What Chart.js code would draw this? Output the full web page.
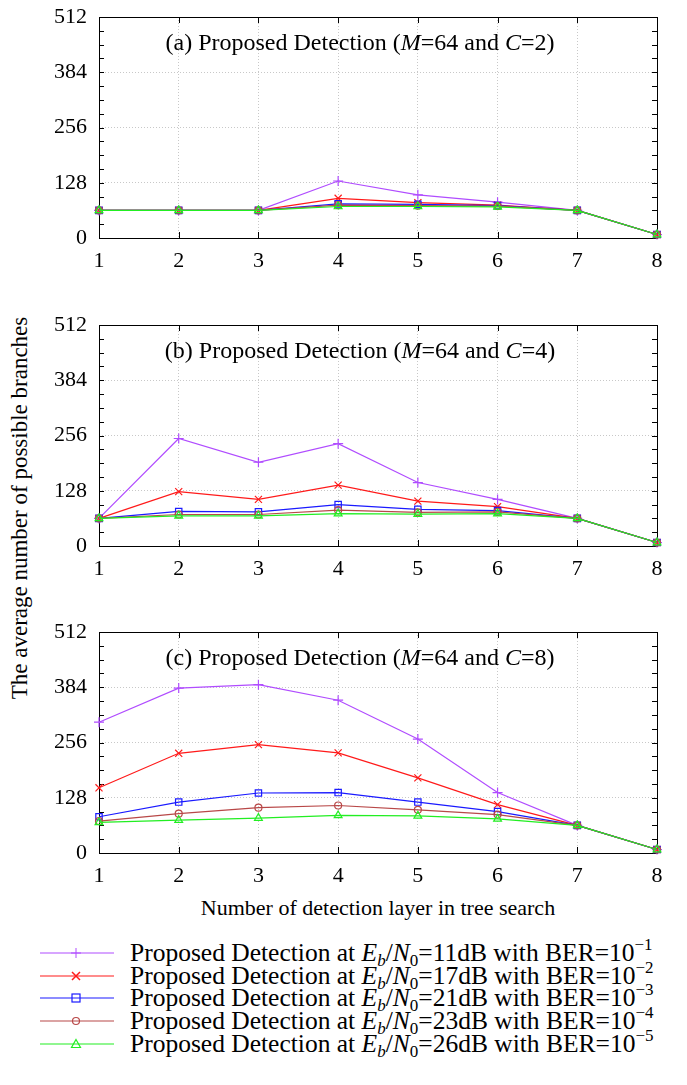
<!DOCTYPE html>
<html>
<head>
<meta charset="utf-8">
<script src="https://cdn.jsdelivr.net/npm/chart.js@4.4.1/dist/chart.umd.min.js"></script>
<style>
  body { margin: 0; background: #fff; width: 687px; height: 1085px; position: relative; overflow: hidden;
         font-family: "Liberation Serif", "Times New Roman", serif; color: #000; }
  .panel { position: absolute; left: 50px; width: 620px; height: 267px; }
  #ylabel { position: absolute; left: 20px; top: 508px; transform: translate(-50%, -50%) rotate(-90deg);
            white-space: nowrap; font-size: 23px; }
  #xlabel { position: absolute; left: 378px; top: 908px; transform: translate(-50%, -50%);
            white-space: nowrap; font-size: 22px; }
  .leg { position: absolute; left: 36px; height: 24px; line-height: 24px; font-size: 25.5px; white-space: nowrap; }
  .leg svg { position: absolute; left: 0; top: 0; }
  .leg span { position: absolute; left: 94px; top: 0; }
  sub { font-size: 17px; vertical-align: -5px; line-height: 0; }
  sup { font-size: 17px; vertical-align: 11px; line-height: 0; }
</style>
</head>
<body>
<canvas id="chartA" class="panel" width="620" height="267" style="top:3px"></canvas>
<canvas id="chartB" class="panel" width="620" height="267" style="top:311px"></canvas>
<canvas id="chartC" class="panel" width="620" height="267" style="top:618px"></canvas>
<div id="ylabel">The average number of possible branches</div>
<div id="xlabel">Number of detection layer in tree search</div>
<div id="legend"></div>
<script>
// detection layers (x axis)
const layers = ['1', '2', '3', '4', '5', '6', '7', '8'];
const yTicks = [0, 128, 256, 384, 512];

// (a) M=64, C=2
const c2_11dB = [64, 64, 64, 132, 100, 83, 64, 8];
const c2_17dB = [64, 64, 64, 92, 82, 76, 64, 8];
const c2_21dB = [64, 64, 64, 79, 78, 75, 64, 8];
const c2_23dB = [64, 64, 64, 76, 75, 74, 64, 8];
const c2_26dB = [64, 64, 64, 73, 73, 72, 64, 8];

// (b) M=64, C=4
const c4_11dB = [64, 249, 194, 237, 147, 108, 64, 8];
const c4_17dB = [64, 126, 108, 141, 104, 91, 64, 8];
const c4_21dB = [64, 80, 79, 96, 85, 82, 64, 8];
const c4_23dB = [64, 73, 73, 83, 78, 79, 64, 8];
const c4_26dB = [64, 70, 70, 75, 74, 75, 64, 8];

// (c) M=64, C=8
const c8_11dB = [303, 382, 390, 354, 264, 140, 64, 8];
const c8_17dB = [151, 231, 251, 232, 174, 112, 64, 8];
const c8_21dB = [84, 118, 139, 140, 118, 96, 64, 8];
const c8_23dB = [74, 91, 105, 110, 100, 89, 64, 8];
const c8_26dB = [71, 76, 81, 87, 86, 79, 64, 8];

const snrLabels = ['11', '17', '21', '23', '26'];
const berExp = ['1', '2', '3', '4', '5'];

const FONT = '"Liberation Serif", "Times New Roman", serif';
const styles = [
  { color: '#b04cff', point: 'cross', r: 5 },
  { color: '#ff1a1a', point: 'crossRot', r: 5 },
  { color: '#1a1aff', point: 'rect', r: 4.5 },
  { color: '#b84848', point: 'circle', r: 3.5 },
  { color: '#22ee22', point: 'triangle', r: 4.5 },
];

// box, inward ticks and the rich-text panel title
const framePlugin = {
  id: 'frame',
  beforeDatasetsDraw(chart) {
    const { ctx, chartArea: a, scales } = chart;
    ctx.save();
    ctx.strokeStyle = '#000';
    ctx.lineWidth = 1;
    ctx.beginPath();
    for (let v = 32; v < 512; v += 32) {
      const y = Math.round(scales.y.getPixelForValue(v)) + 0.5;
      ctx.moveTo(a.left, y); ctx.lineTo(a.left + 5, y);
      ctx.moveTo(a.right, y); ctx.lineTo(a.right - 5, y);
    }
    for (let i = 1; i < layers.length - 1; i++) {
      const x = Math.round(scales.x.getPixelForValue(i)) + 0.5;
      ctx.moveTo(x, a.top); ctx.lineTo(x, a.top + 6);
      ctx.moveTo(x, a.bottom); ctx.lineTo(x, a.bottom - 6);
    }
    ctx.stroke();
    ctx.strokeRect(Math.round(a.left) + 0.5, Math.round(a.top) + 0.5,
                   Math.round(a.right - a.left), Math.round(a.bottom - a.top));
    ctx.restore();
  },
  afterDraw(chart, args, opts) {
    const { ctx, chartArea: a } = chart;
    const segs = opts.segments || [];
    ctx.save();
    ctx.fillStyle = '#000';
    ctx.textBaseline = 'middle';
    let total = 0;
    segs.forEach(s => { ctx.font = (s.i ? 'italic ' : '') + '24px ' + FONT; s.w = ctx.measureText(s.t).width; total += s.w; });
    let x = (a.left + a.right) / 2 - 18 - total / 2;
    const y = a.top + 27;
    segs.forEach(s => { ctx.font = (s.i ? 'italic ' : '') + '24px ' + FONT; ctx.fillText(s.t, x, y); x += s.w; });
    ctx.restore();
  }
};

function makeChart(id, series, cval) {
  const datasets = series.map((d, k) => ({
    label: 'Eb/N0=' + snrLabels[k] + 'dB',
    data: d,
    borderColor: styles[k].color,
    backgroundColor: 'rgba(0,0,0,0)',
    borderWidth: 1.2,
    pointStyle: styles[k].point,
    pointRadius: styles[k].r,
    pointBorderColor: styles[k].color,
    pointBackgroundColor: 'rgba(0,0,0,0)',
    pointBorderWidth: 1.2,
    tension: 0,
    clip: false,
    order: 5 - k
  }));
  const letter = { 2: '(a)', 4: '(b)', 8: '(c)' }[cval];
  return new Chart(document.getElementById(id), {
    type: 'line',
    data: { labels: layers, datasets },
    plugins: [framePlugin],
    options: {
      responsive: false,
      animation: false,
      devicePixelRatio: 1,
      layout: { padding: { top: 14, right: 13, left: 0, bottom: 0 } },
      plugins: {
        legend: { display: false },
        tooltip: { enabled: false },
        frame: { segments: [
          { t: letter + ' Proposed Detection (' }, { t: 'M', i: true }, { t: '=64 and ' },
          { t: 'C', i: true }, { t: '=' + cval + ')' }
        ] }
      },
      scales: {
        x: {
          offset: false,
          afterFit: s => { s.height = 32; s.paddingLeft = 0; s.paddingRight = 0; },
          grid: {
            color: c => (c.index === 0 || c.index === layers.length - 1) ? 'rgba(0,0,0,0)' : '#c8c8c8',
            drawTicks: false, lineWidth: 1
          },
          border: { display: false, dash: [1, 2] },
          ticks: { color: '#000', font: { family: FONT, size: 22 }, padding: 10, maxRotation: 0 }
        },
        y: {
          min: 0, max: 512,
          afterFit: s => { s.width = 49; s.paddingTop = 0; s.paddingBottom = 0; },
          afterBuildTicks: s => { s.ticks = yTicks.map(v => ({ value: v })); },
          grid: {
            color: c => (c.tick.value === 0 || c.tick.value === 512) ? 'rgba(0,0,0,0)' : '#c8c8c8',
            drawTicks: false, lineWidth: 1
          },
          border: { display: false, dash: [1, 2] },
          ticks: { color: '#000', font: { family: FONT, size: 22 }, padding: 12 }
        }
      }
    }
  });
}

makeChart('chartA', [c2_11dB, c2_17dB, c2_21dB, c2_23dB, c2_26dB], 2);
makeChart('chartB', [c4_11dB, c4_17dB, c4_21dB, c4_23dB, c4_26dB], 4);
makeChart('chartC', [c8_11dB, c8_17dB, c8_21dB, c8_23dB, c8_26dB], 8);

// legend below the charts
function markerSvg(k) {
  const c = styles[k].color, cx = 40, cy = 12;
  let m = '';
  if (k === 0) m = `<path d="M${cx-5} ${cy}H${cx+5}M${cx} ${cy-5}V${cy+5}" stroke="${c}"/>`;
  if (k === 1) m = `<path d="M${cx-4} ${cy-4}L${cx+4} ${cy+4}M${cx-4} ${cy+4}L${cx+4} ${cy-4}" stroke="${c}" stroke-width="1.5"/>`;
  if (k === 2) m = `<rect x="${cx-4}" y="${cy-4}" width="8" height="8" fill="none" stroke="${c}" stroke-width="1.2"/>`;
  if (k === 3) m = `<circle cx="${cx}" cy="${cy}" r="3.5" fill="none" stroke="${c}" stroke-width="1.2"/>`;
  if (k === 4) m = `<path d="M${cx} ${cy-4.5}L${cx+4.5} ${cy+3.5}L${cx-4.5} ${cy+3.5}Z" fill="none" stroke="${c}" stroke-width="1.2"/>`;
  return `<svg width="84" height="24"><line x1="4" y1="${cy}" x2="78" y2="${cy}" stroke="${c}" stroke-width="1.2"/>${m}</svg>`;
}
const legendTops = [941, 964, 986, 1009, 1032];
const legend = document.getElementById('legend');
snrLabels.forEach((snr, k) => {
  const row = document.createElement('div');
  row.className = 'leg';
  row.style.top = legendTops[k] + 'px';
  row.innerHTML = markerSvg(k) +
    `<span>Proposed Detection at <i>E</i><sub><i>b</i></sub>/<i>N</i><sub>0</sub>=${snr}dB with BER=10<sup>\u2212${berExp[k]}</sup></span>`;
  legend.appendChild(row);
});
</script>
</body>
</html>
